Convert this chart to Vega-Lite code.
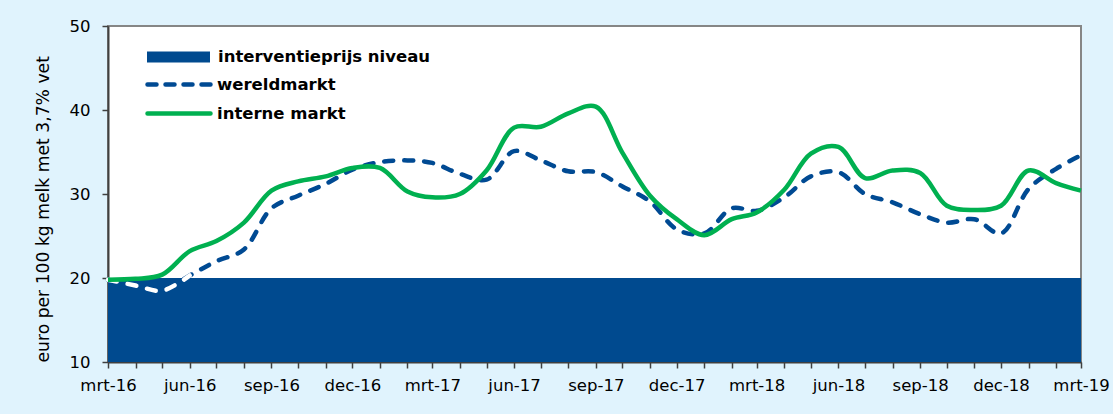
{
  "$schema": "https://vega.github.io/schema/vega-lite/v6.json",
  "width": 973,
  "height": 336,
  "autosize": {"type": "none"},
  "padding": {"left": 108, "top": 26, "right": 32, "bottom": 52},
  "background": "#e0f3fd",
  "config": {
    "view": {"fill": "white", "stroke": "#868686", "strokeWidth": 2},
    "font": "DejaVu Sans",
    "axis": {
      "labelFont": "DejaVu Sans",
      "labelFontSize": 16.5,
      "labelColor": "#000000",
      "domainColor": "#404040",
      "domainWidth": 2,
      "tickColor": "#404040",
      "tickWidth": 1.5,
      "tickSize": 6,
      "grid": false,
      "titleFont": "DejaVu Sans",
      "titleFontWeight": "normal",
      "titleColor": "#000000"
    },
    "legend": {
      "title": null,
      "orient": "none",
      "padding": 0,
      "symbolSize": 441,
      "labelFont": "DejaVu Sans",
      "labelFontSize": 16.5,
      "labelFontWeight": "bold",
      "labelColor": "#000000",
      "labelOffset": 29,
      "labelLimit": 400,
      "rowPadding": 7
    }
  },
  "data": {
    "values": [
      {"date": "2016-03-01", "series": "interventieprijs niveau", "value": 20},
      {"date": "2019-03-01", "series": "interventieprijs niveau", "value": 20},
      {"date": "2016-03-01", "series": "wereldmarkt", "value": 19.8},
      {"date": "2016-04-01", "series": "wereldmarkt", "value": 19.1},
      {"date": "2016-05-01", "series": "wereldmarkt", "value": 18.5},
      {"date": "2016-06-01", "series": "wereldmarkt", "value": 20.3},
      {"date": "2016-07-01", "series": "wereldmarkt", "value": 22.0},
      {"date": "2016-08-01", "series": "wereldmarkt", "value": 23.4},
      {"date": "2016-09-01", "series": "wereldmarkt", "value": 28.3},
      {"date": "2016-10-01", "series": "wereldmarkt", "value": 29.8},
      {"date": "2016-11-01", "series": "wereldmarkt", "value": 31.2},
      {"date": "2016-12-01", "series": "wereldmarkt", "value": 32.9},
      {"date": "2017-01-01", "series": "wereldmarkt", "value": 33.8},
      {"date": "2017-02-01", "series": "wereldmarkt", "value": 34.0},
      {"date": "2017-03-01", "series": "wereldmarkt", "value": 33.7},
      {"date": "2017-04-01", "series": "wereldmarkt", "value": 32.4},
      {"date": "2017-05-01", "series": "wereldmarkt", "value": 31.7},
      {"date": "2017-06-01", "series": "wereldmarkt", "value": 35.1},
      {"date": "2017-07-01", "series": "wereldmarkt", "value": 34.0},
      {"date": "2017-08-01", "series": "wereldmarkt", "value": 32.7},
      {"date": "2017-09-01", "series": "wereldmarkt", "value": 32.6},
      {"date": "2017-10-01", "series": "wereldmarkt", "value": 30.9},
      {"date": "2017-11-01", "series": "wereldmarkt", "value": 29.1},
      {"date": "2017-12-01", "series": "wereldmarkt", "value": 25.8},
      {"date": "2018-01-01", "series": "wereldmarkt", "value": 25.3},
      {"date": "2018-02-01", "series": "wereldmarkt", "value": 28.3},
      {"date": "2018-03-01", "series": "wereldmarkt", "value": 28.0},
      {"date": "2018-04-01", "series": "wereldmarkt", "value": 29.6},
      {"date": "2018-05-01", "series": "wereldmarkt", "value": 32.1},
      {"date": "2018-06-01", "series": "wereldmarkt", "value": 32.6},
      {"date": "2018-07-01", "series": "wereldmarkt", "value": 30.0},
      {"date": "2018-08-01", "series": "wereldmarkt", "value": 29.0},
      {"date": "2018-09-01", "series": "wereldmarkt", "value": 27.6},
      {"date": "2018-10-01", "series": "wereldmarkt", "value": 26.6},
      {"date": "2018-11-01", "series": "wereldmarkt", "value": 27.0},
      {"date": "2018-12-01", "series": "wereldmarkt", "value": 25.3},
      {"date": "2019-01-01", "series": "wereldmarkt", "value": 30.6},
      {"date": "2019-02-01", "series": "wereldmarkt", "value": 33.0},
      {"date": "2019-03-01", "series": "wereldmarkt", "value": 34.6},
      {"date": "2016-03-01", "series": "interne markt", "value": 19.8},
      {"date": "2016-04-01", "series": "interne markt", "value": 19.9},
      {"date": "2016-05-01", "series": "interne markt", "value": 20.4},
      {"date": "2016-06-01", "series": "interne markt", "value": 23.2},
      {"date": "2016-07-01", "series": "interne markt", "value": 24.4},
      {"date": "2016-08-01", "series": "interne markt", "value": 26.6},
      {"date": "2016-09-01", "series": "interne markt", "value": 30.4},
      {"date": "2016-10-01", "series": "interne markt", "value": 31.5},
      {"date": "2016-11-01", "series": "interne markt", "value": 32.1},
      {"date": "2016-12-01", "series": "interne markt", "value": 33.1},
      {"date": "2017-01-01", "series": "interne markt", "value": 33.1},
      {"date": "2017-02-01", "series": "interne markt", "value": 30.3},
      {"date": "2017-03-01", "series": "interne markt", "value": 29.6},
      {"date": "2017-04-01", "series": "interne markt", "value": 30.0},
      {"date": "2017-05-01", "series": "interne markt", "value": 32.8},
      {"date": "2017-06-01", "series": "interne markt", "value": 37.9},
      {"date": "2017-07-01", "series": "interne markt", "value": 38.0},
      {"date": "2017-08-01", "series": "interne markt", "value": 39.6},
      {"date": "2017-09-01", "series": "interne markt", "value": 40.4},
      {"date": "2017-10-01", "series": "interne markt", "value": 34.9},
      {"date": "2017-11-01", "series": "interne markt", "value": 29.8},
      {"date": "2017-12-01", "series": "interne markt", "value": 27.0},
      {"date": "2018-01-01", "series": "interne markt", "value": 25.1},
      {"date": "2018-02-01", "series": "interne markt", "value": 27.0},
      {"date": "2018-03-01", "series": "interne markt", "value": 27.8},
      {"date": "2018-04-01", "series": "interne markt", "value": 30.5},
      {"date": "2018-05-01", "series": "interne markt", "value": 34.8},
      {"date": "2018-06-01", "series": "interne markt", "value": 35.6},
      {"date": "2018-07-01", "series": "interne markt", "value": 31.9},
      {"date": "2018-08-01", "series": "interne markt", "value": 32.8},
      {"date": "2018-09-01", "series": "interne markt", "value": 32.5},
      {"date": "2018-10-01", "series": "interne markt", "value": 28.6},
      {"date": "2018-11-01", "series": "interne markt", "value": 28.1},
      {"date": "2018-12-01", "series": "interne markt", "value": 28.6},
      {"date": "2019-01-01", "series": "interne markt", "value": 32.8},
      {"date": "2019-02-01", "series": "interne markt", "value": 31.3},
      {"date": "2019-03-01", "series": "interne markt", "value": 30.4}
    ]
  },
  "encoding": {
    "x": {
      "field": "date",
      "type": "temporal",
      "scale": {"type": "utc", "nice": false},
      "axis": {
        "title": null,
        "values": [
          {"year": 2016, "month": 3, "date": 1, "utc": true},
          {"year": 2016, "month": 4, "date": 1, "utc": true},
          {"year": 2016, "month": 5, "date": 1, "utc": true},
          {"year": 2016, "month": 6, "date": 1, "utc": true},
          {"year": 2016, "month": 7, "date": 1, "utc": true},
          {"year": 2016, "month": 8, "date": 1, "utc": true},
          {"year": 2016, "month": 9, "date": 1, "utc": true},
          {"year": 2016, "month": 10, "date": 1, "utc": true},
          {"year": 2016, "month": 11, "date": 1, "utc": true},
          {"year": 2016, "month": 12, "date": 1, "utc": true},
          {"year": 2017, "month": 1, "date": 1, "utc": true},
          {"year": 2017, "month": 2, "date": 1, "utc": true},
          {"year": 2017, "month": 3, "date": 1, "utc": true},
          {"year": 2017, "month": 4, "date": 1, "utc": true},
          {"year": 2017, "month": 5, "date": 1, "utc": true},
          {"year": 2017, "month": 6, "date": 1, "utc": true},
          {"year": 2017, "month": 7, "date": 1, "utc": true},
          {"year": 2017, "month": 8, "date": 1, "utc": true},
          {"year": 2017, "month": 9, "date": 1, "utc": true},
          {"year": 2017, "month": 10, "date": 1, "utc": true},
          {"year": 2017, "month": 11, "date": 1, "utc": true},
          {"year": 2017, "month": 12, "date": 1, "utc": true},
          {"year": 2018, "month": 1, "date": 1, "utc": true},
          {"year": 2018, "month": 2, "date": 1, "utc": true},
          {"year": 2018, "month": 3, "date": 1, "utc": true},
          {"year": 2018, "month": 4, "date": 1, "utc": true},
          {"year": 2018, "month": 5, "date": 1, "utc": true},
          {"year": 2018, "month": 6, "date": 1, "utc": true},
          {"year": 2018, "month": 7, "date": 1, "utc": true},
          {"year": 2018, "month": 8, "date": 1, "utc": true},
          {"year": 2018, "month": 9, "date": 1, "utc": true},
          {"year": 2018, "month": 10, "date": 1, "utc": true},
          {"year": 2018, "month": 11, "date": 1, "utc": true},
          {"year": 2018, "month": 12, "date": 1, "utc": true},
          {"year": 2019, "month": 1, "date": 1, "utc": true},
          {"year": 2019, "month": 2, "date": 1, "utc": true},
          {"year": 2019, "month": 3, "date": 1, "utc": true}
        ],
        "labelExpr": "utcmonth(datum.value) % 3 == 2 ? ['jan','feb','mrt','apr','mei','jun','jul','aug','sep','okt','nov','dec'][utcmonth(datum.value)] + '-' + utcFormat(datum.value, '%y') : ''",
        "labelOverlap": false,
        "labelFlush": false,
        "labelPadding": 9,
        "labelAngle": 0
      }
    },
    "y": {
      "field": "value",
      "type": "quantitative",
      "scale": {"domain": [10, 50], "nice": false, "zero": false},
      "axis": {
        "values": [10, 20, 30, 40, 50],
        "labelPadding": 12,
        "title": "euro per 100 kg melk met 3,7% vet",
        "titleFontSize": 17.2,
        "titleAngle": -90,
        "titleAlign": "left",
        "titleBaseline": "alphabetic",
        "titleX": -59.5,
        "titleY": 336
      }
    }
  },
  "layer": [
    {
      "transform": [{"filter": {"field": "series", "equal": "interventieprijs niveau"}}],
      "mark": {"type": "area", "opacity": 1},
      "encoding": {
        "y2": {"datum": 10},
        "fill": {
          "field": "series",
          "type": "nominal",
          "scale": {"domain": ["interventieprijs niveau"], "range": ["#004a8f"]},
          "legend": {
            "legendX": 60,
            "legendY": 20.5,
            "symbolType": "M-3,-0.52H3V0.52H-3Z",
            "symbolStrokeWidth": 0
          }
        }
      }
    },
    {
      "transform": [{"filter": {"field": "series", "equal": "wereldmarkt"}}],
      "mark": {"type": "line", "strokeWidth": 4.5, "strokeDash": [9, 11], "strokeCap": "round", "interpolate": "catmull-rom"},
      "encoding": {
        "stroke": {
          "field": "series",
          "type": "nominal",
          "scale": {"domain": ["wereldmarkt", "interne markt"], "range": ["#004a93", "#00b050"]},
          "legend": {
            "legendX": 58,
            "legendY": 45.5,
            "labelOffset": 25,
            "symbolType": "M-3,0H3",
            "symbolStrokeWidth": 4.5,
            "encode": {
              "symbols": {
                "update": {
                  "fill": {"value": "transparent"},
                  "strokeDash": {"signal": "datum.value === 'wereldmarkt' ? [9, 9] : [1, 0]"},
                  "strokeCap": {"value": "round"},
                  "opacity": {"value": 1}
                }
              }
            }
          }
        }
      }
    },
    {
      "transform": [
        {"filter": {"field": "series", "equal": "wereldmarkt"}},
        {"filter": {"field": "date", "lte": {"year": 2016, "month": 6, "date": 1, "utc": true}}}
      ],
      "mark": {"type": "line", "strokeWidth": 4.5, "strokeDash": [9, 11], "strokeCap": "round", "interpolate": "catmull-rom", "color": "white"},
      "encoding": {}
    },
    {
      "transform": [{"filter": {"field": "series", "equal": "interne markt"}}],
      "mark": {"type": "line", "strokeWidth": 4.5, "interpolate": "catmull-rom"},
      "encoding": {"stroke": {"field": "series", "type": "nominal"}}
    }
  ]
}
